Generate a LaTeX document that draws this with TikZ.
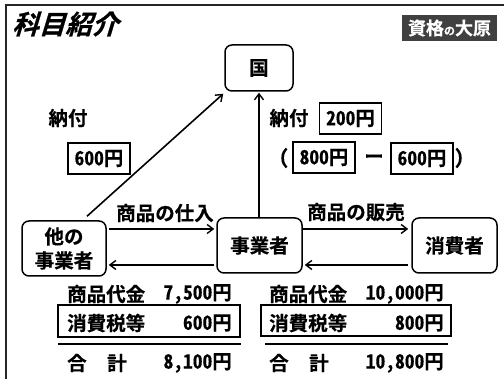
\documentclass[tikz,border=0pt]{standalone}
\usepackage{fontspec}
\setmainfont{Noto Sans CJK JP}[BoldFont=* Bold]
\newfontfamily\jp{Noto Sans CJK JP}[BoldFont=* Bold,RawFeature=+hwid,BoldFeatures={FakeBold=0.35}]
\newfontfamily\jpslant{Noto Sans CJK JP}[BoldFont=* Bold,BoldFeatures={FakeSlant=0.3,FakeBold=0.6}]
\definecolor{logogray}{HTML}{404040}
\tikzset{
  ent/.style={draw,line width=1.5pt,rounded corners=7pt,align=center,inner sep=0pt,font=\jp\bfseries\fontsize{19.5}{24}\selectfont},
  val/.style={draw,line width=1.3pt,minimum width=62pt,minimum height=31pt,inner sep=0pt,font=\jp\bfseries\fontsize{19.5}{22}\selectfont},
  lab/.style={inner sep=0pt,font=\jp\bfseries\fontsize{19.5}{22}\selectfont},
  row/.style={draw,line width=1.3pt,inner sep=0pt},
  rule/.style={line width=2pt},
  frame/.style={line width=1.5pt,draw=black!85},
  flow/.style={line width=1.6pt,-{Straight Barb[length=6pt,width=9pt,line width=1.4pt]}}
}
\usetikzlibrary{arrows.meta}
\begin{document}
\begin{tikzpicture}[x=1pt,y=-1pt]
\useasboundingbox (0,0) rectangle (504,379);
\draw[frame] (6,379) -- (6,5) -- (504,5);
\node[lab,anchor=west,font=\jpslant\bfseries\fontsize{26.5}{28}\selectfont] (title) at (12,24) {科目紹介};
\node[fill=logogray,minimum width=95pt,minimum height=26pt,inner sep=0pt,text=white,font=\jp\bfseries\fontsize{18}{20}\selectfont] (logo) at (449.5,28) {資格{\fontsize{11}{12}\selectfont の}大原};
\node[ent,minimum width=68pt,minimum height=46pt] (koku) at (259,68) {国};
\node[ent,minimum width=84pt,minimum height=55pt] (other) at (64,248.5) {他の\\事業者};
\node[ent,minimum width=85pt,minimum height=55pt] (self) at (259.5,245.5) {事業者};
\node[ent,minimum width=85pt,minimum height=55pt] (cons) at (454.5,245.5) {消費者};
\draw[flow] ([xshift=23pt,yshift=4pt]other.north) -- ([xshift=-1pt,yshift=-2pt]koku.south west);
\draw[flow] (self.north -| koku.south) -- ([yshift=-1pt]koku.south);
\draw[flow] ([xshift=2pt,yshift=19.5pt]other.east) -- ([xshift=-2pt,yshift=16.5pt]self.west);
\draw[flow] ([xshift=-2pt,yshift=-19.5pt]self.west) -- ([xshift=2pt,yshift=-16.5pt]other.east);
\draw[flow] ([yshift=16.5pt]self.east) -- ([xshift=-3pt,yshift=16.5pt]cons.west);
\draw[flow] ([xshift=-3pt,yshift=-19.5pt]cons.west) -- ([xshift=2pt,yshift=-19.5pt]self.east);
\node[lab] (pay1) at (68,118) {納付};
\node[val] (v600a) at (99,158.5) {600円};
\node[lab] (pay2) at (289,118) {納付};
\node[val] (v200) at (350.5,118.5) {200円};
\node[lab] (lp) at (284,158) {(};
\node[val] (v800) at (324,157.5) {800円};
\node[lab] (minus) at (374,159) {ー};
\node[val] (v600b) at (422,158.5) {600円};
\node[lab] (rp) at (459,158) {)};
\node[lab] (buy) at (165,213) {商品の仕入};
\node[lab] (sell) at (356,212) {商品の販売};
\node[row,minimum width=182pt,minimum height=32pt] (taxboxa) at (149,321) {};
\node[row,minimum width=190pt,minimum height=31pt] (taxboxb) at (356,320.5) {};
\node[lab,anchor=west] (a1) at (67,294) {商品代金};
\node[lab,anchor=east] (a2) at (232,294) {7,500円};
\node[lab,anchor=west] (a3) at (67,323) {消費税等};
\node[lab,anchor=east] (a4) at (232,323) {600円};
\node[lab,anchor=west] (a5) at (67,363) {合};
\node[lab,anchor=west] (a6) at (107,363) {計};
\node[lab,anchor=east] (a7) at (232,363) {8,100円};
\node[lab,anchor=west] (b1) at (269,294) {商品代金};
\node[lab,anchor=east] (b2) at (444,294) {10,000円};
\node[lab,anchor=west] (b3) at (269,323) {消費税等};
\node[lab,anchor=east] (b4) at (444,323) {800円};
\node[lab,anchor=west] (b5) at (269,363) {合};
\node[lab,anchor=west] (b6) at (309,363) {計};
\node[lab,anchor=east] (b7) at (444,363) {10,800円};
\coordinate (r1l) at (58,344); \coordinate (r1r) at (241,344);
\coordinate (r2l) at (265,344); \coordinate (r2r) at (448,344);
\draw[rule] (r1l) -- (r1r);
\draw[rule] (r2l) -- (r2r);
\end{tikzpicture}
\end{document}
